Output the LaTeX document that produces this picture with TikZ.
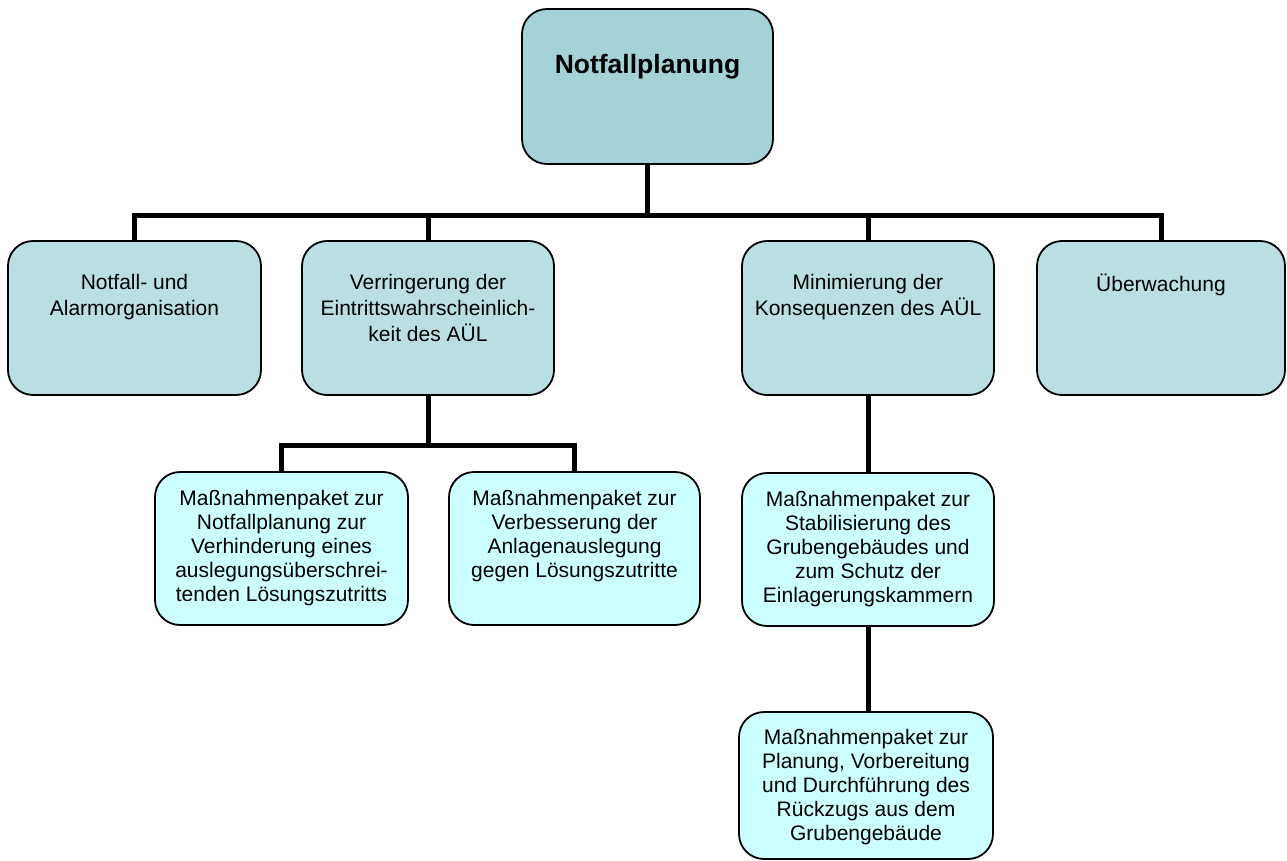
\documentclass[tikz,border=0pt]{standalone}
\usepackage{fontspec}
\setmainfont{Liberation Sans}
\usetikzlibrary{fit,calc}
\definecolor{rootc}{HTML}{A3D3D7}
\definecolor{midc}{HTML}{BADFE2}
\definecolor{lowc}{HTML}{CCFFFF}
\begin{document}
\begin{tikzpicture}[x=1pt,y=-1pt,
  box/.style={draw=black, line width=1.8pt, rounded corners=25pt, inner sep=0pt},
  conn/.style={draw=black, line width=5pt},
  txtm/.style={font=\fontsize{21}{26}\selectfont, align=center, inner sep=0pt, anchor=north},
  txtl/.style={font=\fontsize{21}{24}\selectfont, align=center, inner sep=0pt, anchor=north},
  txtr/.style={font=\fontsize{26.5}{30}\selectfont\bfseries, align=center, inner sep=0pt, anchor=north}]
\useasboundingbox (0,0) rectangle (1287,861);
% boxes
\node[box, fill=rootc, fit={(522,9) (773,164)}] (root) {};
\node[box, fill=midc, fit={(8,241) (261,395)}] (b1) {};
\node[box, fill=midc, fit={(302,241) (554,395)}] (b2) {};
\node[box, fill=midc, fit={(742,241) (994,395)}] (b3) {};
\node[box, fill=midc, fit={(1037,241) (1285,395)}] (b4) {};
\node[box, fill=lowc, fit={(155,472) (408,625)}] (b5) {};
\node[box, fill=lowc, fit={(449,472) (700,625)}] (b6) {};
\node[box, fill=lowc, fit={(742,473) (994,626)}] (b7) {};
\node[box, fill=lowc, fit={(739,712) (993,859)}] (b8) {};
% texts
\node[txtr] (troot) at ($(root.north)+(0,46)$) {Notfallplanung};
\node[txtm] (t1) at ($(b1.north)+(0,34)$) {Notfall- und\\Alarmorganisation};
\node[txtm] (t2) at ($(b2.north)+(0,34)$) {Verringerung der\\Eintrittswahrscheinlich-\\keit des AÜL};
\node[txtm] (t3) at ($(b3.north)+(0,34)$) {Minimierung der\\Konsequenzen des AÜL};
\node[txtm] (t4) at ($(b4.north)+(0,34)$) {Überwachung};
\node[txtl] (t5) at ($(b5.north)+(0,19)$) {Maßnahmenpaket zur\\Notfallplanung zur\\Verhinderung eines\\auslegungsüberschrei-\\tenden Lösungszutritts};
\node[txtl] (t6) at ($(b6.north)+(0,19)$) {Maßnahmenpaket zur\\Verbesserung der\\Anlagenauslegung\\gegen Lösungszutritte};
\node[txtl] (t7) at ($(b7.north)+(0,19)$) {Maßnahmenpaket zur\\Stabilisierung des\\Grubengebäudes und\\zum Schutz der\\Einlagerungskammern};
\node[txtl] (t8) at ($(b8.north)+(0,18)$) {Maßnahmenpaket zur\\Planung, Vorbereitung\\und Durchführung des\\Rückzugs aus dem\\Grubengebäude};
% connectors
\coordinate (bus) at (0,215);
\coordinate (bus2) at (0,445);
\draw[conn] (root.south) |- (b1.north |- bus) -- (b1.north);
\draw[conn] (root.south) |- (b2.north |- bus) -- (b2.north);
\draw[conn] (root.south) |- (b3.north |- bus) -- (b3.north);
\draw[conn] (root.south) |- (b4.north |- bus) -- (b4.north);
\draw[conn] (b2.south) |- (b5.north |- bus2) -- (b5.north);
\draw[conn] (b2.south) |- (b6.north |- bus2) -- (b6.north);
\draw[conn] (b3.south) -- (b7.north);
\draw[conn] (b7.south) -- (b7.south |- b8.north);
\end{tikzpicture}
\end{document}
